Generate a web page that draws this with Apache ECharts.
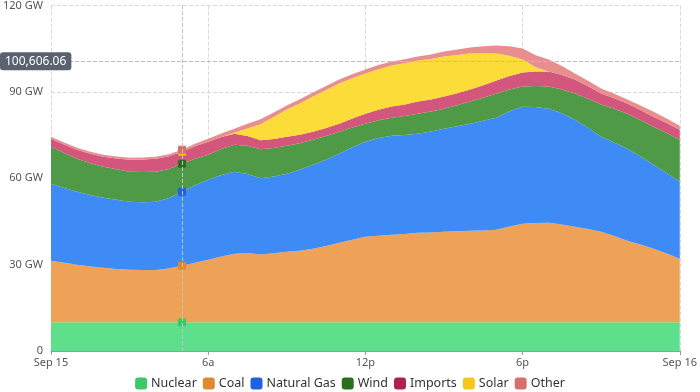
<!DOCTYPE html>
<html><head><meta charset="utf-8">
<script src="https://cdn.jsdelivr.net/npm/echarts@6/dist/echarts.min.js"></script>
<style>html,body{margin:0;padding:0;background:#fff}#c{width:700px;height:392px}</style>
</head><body><div id="c"></div>
<script>
const categories = ['00:00','00:30','01:00','01:30','02:00','02:30','03:00','03:30','04:00','04:30','05:00','05:30',
  '06:00','06:30','07:00','07:30','08:00','08:30','09:00','09:30','10:00','10:30','11:00','11:30',
  '12:00','12:30','13:00','13:30','14:00','14:30','15:00','15:30','16:00','16:30','17:00','17:30',
  '18:00','18:30','19:00','19:30','20:00','20:30','21:00','21:30','22:00','22:30','23:00','23:30','24:00'];
const xTickLabels = ['Sep 15','6a','12p','6p','Sep 16'];
const yTickUnit = ' GW';
const seriesNames = ['Nuclear','Coal','Natural Gas','Wind','Imports','Solar','Other'];

// MW, one value per half hour
const nuclear = [9952,9948,9945,9950,9947,9944,9949,9951,9946,9943,9948,9950,9947,9945,9949,9952,9948,9946,9950,9947,9944,9948,9951,9949,9946,9943,9947,9950,9948,9945,9949,9951,9947,9944,9948,9950,9946,9943,9947,9949,9951,9948,9945,9947,9950,9948,9946,9944,9949];
const coal = [21360,20700,19970,19400,18930,18550,18230,18180,18230,18700,19630,20700,21710,22900,23800,24100,23600,24000,24490,24900,25540,26500,27630,28700,29710,30100,30410,30700,31100,31200,31450,31600,31800,31900,32150,33300,34230,34500,34580,34000,33190,32400,31450,30000,28320,27000,25540,23900,22060];
const naturalGas = [26790,26000,25390,24800,24350,24000,23660,23500,23660,24500,25730,26900,27830,28300,28520,27400,26430,26700,27140,28100,29220,30000,30950,32100,33050,33900,34430,34400,34440,35100,35830,36500,37220,38100,38950,40000,40700,40300,39650,38600,37220,35200,33040,32500,32000,30600,29220,28000,26780];
const wind = [12870,12100,11480,11100,10780,10600,10430,10500,10430,10100,9740,9200,8690,9000,9390,9800,10090,9900,9730,9200,8690,8200,7650,6900,6260,6200,6260,6600,6950,6900,6950,7300,7650,8000,8350,7600,6960,7300,7660,8300,9040,10100,11140,11700,12170,12700,13210,13900,14610];
const imports = [2780,2950,3130,3300,3480,3800,4170,4350,4520,4400,4180,4350,4530,4200,3830,3450,3130,3100,3130,2950,2780,2800,2790,3100,3470,3650,3830,4000,4180,4200,4180,4150,4170,4350,4520,4700,4870,5050,5210,5050,4870,4300,3820,3650,3480,3500,3480,3450,3480];
const solar = [0,0,0,0,0,0,0,0,0,0,0,0,0,0,300,2600,5570,7600,9400,10900,12180,13200,13910,14000,13920,14100,14260,14300,14260,14100,13910,13300,12520,11100,9390,7000,4520,1500,0,0,0,0,0,0,0,0,0,0,0];
const other = [690,700,700,690,690,700,700,700,700,690,690,850,1040,1200,1400,1600,1740,1550,1390,1400,1390,1400,1390,1380,1390,1400,1390,1400,1390,1550,1740,1900,2090,2450,2790,3300,3820,4100,4180,3100,2090,1900,1740,1550,1390,1550,1740,1550,1390];

const pointerIndex = 10;          // 05:00
const pointerValue = 100606.06;   // crosshair value on the y axis

const lineColors = ['#3cc868','#e0892f','#1f62e0','#2b6e1f','#b1214a','#f7c51e','#d86f6f'];
const areaColors = ['#5ddf8c','#eea257','#3f8bf5','#4f9a46','#d3577c','#fcdc38','#e88e8e'];
const seriesData = [nuclear, coal, naturalGas, wind, imports, solar, other];

const FONT = 'Noto Sans';
const chart = echarts.init(document.getElementById('c'), null, {renderer: 'canvas'});
chart.setOption({
  animation: false,
  textStyle: {fontFamily: FONT},
  grid: {left: 47, right: 19, top: 3, bottom: 41},
  legend: {
    top: 372, left: 'center',
    icon: 'path://M2,0H8Q10,0 10,2V8Q10,10 8,10H2Q0,10 0,8V2Q0,0 2,0Z',
    itemWidth: 10, itemHeight: 10, itemGap: 6,
    textStyle: {fontSize: 12.5, color: '#333', fontFamily: FONT},
    data: seriesNames.map((n, i) => ({name: n, itemStyle: {color: lineColors[i]}}))
  },
  tooltip: {
    trigger: 'axis', showContent: false,
    axisPointer: {type: 'cross', lineStyle: {color: '#bbb', type: 'dashed'}, crossStyle: {color: '#bbb', type: 'dashed'}}
  },
  xAxis: {
    type: 'category', boundaryGap: false, data: categories,
    axisLine: {show: true, lineStyle: {color: '#999'}},
    axisTick: {show: true, interval: 11, length: 4, lineStyle: {color: '#999'}},
    axisLabel: {interval: 11, color: '#555', fontSize: 11, margin: 6,
      formatter: (v, i) => xTickLabels[Math.round(i / 12)]},
    splitLine: {show: true, interval: 11, lineStyle: {color: '#d8d8d8', type: 'dashed'}},
    axisPointer: {label: {show: false}, lineStyle: {color: '#c4c4c4', type: 'dashed'}}
  },
  yAxis: {
    type: 'value', min: 0, max: 120000, interval: 30000,
    axisLine: {show: false}, axisTick: {show: false},
    axisLabel: {color: '#555', fontSize: 11, margin: 8,
      formatter: v => v === 0 ? '0' : (v / 1000) + yTickUnit},
    splitLine: {lineStyle: {color: '#d8d8d8', type: 'dashed'}},
    axisPointer: {
      lineStyle: {color: '#bbb', type: 'dashed'},
      label: {backgroundColor: '#5b6170', color: '#fff', fontSize: 12, fontFamily: FONT,
        padding: [3, 5, 3, 5], borderRadius: 3,
        formatter: p => Number(p.value).toLocaleString('en-US', {minimumFractionDigits: 2, maximumFractionDigits: 2})}
    }
  },
  series: seriesNames.map((n, i) => ({
    name: n, type: 'line', stack: 'total', data: seriesData[i],
    showSymbol: false, symbol: 'rect', symbolSize: 7,
    itemStyle: {color: lineColors[i], borderColor: lineColors[i], borderWidth: 1},
    lineStyle: {width: 0},
    areaStyle: {color: areaColors[i], opacity: 1},
    emphasis: {scale: false, lineStyle: {width: 0}, areaStyle: {color: areaColors[i], opacity: 1}}
  }))
});
const px = chart.convertToPixel({xAxisIndex: 0}, pointerIndex);
const py = chart.convertToPixel({yAxisIndex: 0}, pointerValue);
chart.dispatchAction({type: 'showTip', x: px, y: py});
</script></body></html>
